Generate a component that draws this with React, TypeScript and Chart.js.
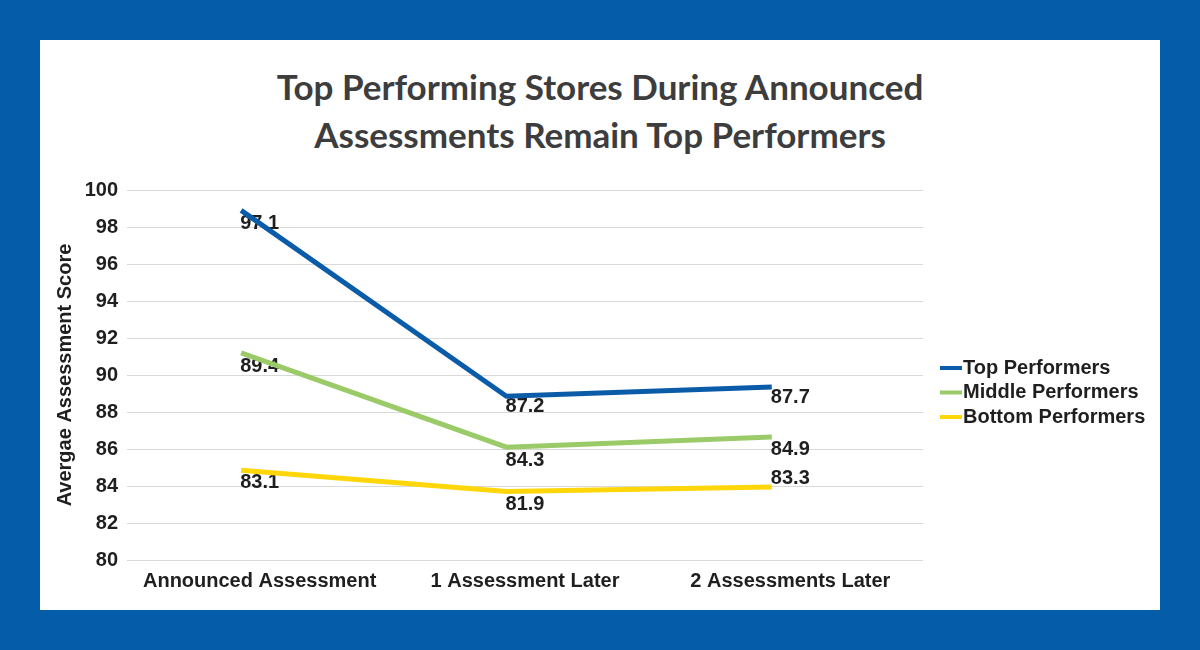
import React, { useEffect, useRef } from "react";
import { Chart, registerables } from "chart.js";

Chart.register(...registerables);

const titleLines = ["Top Performing Stores During Announced", "Assessments Remain Top Performers"];
const categories = ["Announced Assessment", "1 Assessment Later", "2 Assessments Later"];
const seriesNames = ["Top Performers", "Middle Performers", "Bottom Performers"];
const seriesColors = ["#0A5BA8", "#9BCB68", "#FFD60A"];

// line positions as drawn in the picture
const topLine = [98.9, 88.85, 89.35];
const middleLine = [91.2, 86.1, 86.65];
const bottomLine = [84.85, 83.7, 83.95];

// printed data labels
const topLabels = [97.1, 87.2, 87.7];
const middleLabels = [89.4, 84.3, 84.9];
const bottomLabels = [83.1, 81.9, 83.3];

const yMin = 80;
const yMax = 100;
const yStep = 2;
const yTitle = "Avergae Assessment Score";

const TEXT = "#1f1f1f";
const FONT = "'Liberation Sans', Arial, sans-serif";

const lineSets = [topLine, middleLine, bottomLine];
const labelSets = [topLabels, middleLabels, bottomLabels];

const labelPlugin = {
  id: "valueLabels",
  beforeDatasetsDraw(chart: any) {
    const ctx = chart.ctx;
    const xs = chart.scales.x;
    const ys = chart.scales.y;
    ctx.save();
    ctx.font = `bold 20px ${FONT}`;
    ctx.fillStyle = TEXT;
    ctx.textAlign = "center";
    ctx.textBaseline = "middle";
    labelSets.forEach((set) => {
      set.forEach((v, i) => {
        const x = xs.getPixelForValue(i);
        const y = ys.getPixelForValue(v) - 20;
        ctx.fillText(v.toFixed(1), x, y);
      });
    });
    ctx.restore();
  },
};

const legendPlugin = {
  id: "sideLegend",
  afterDraw(chart: any) {
    const ctx = chart.ctx;
    const area = chart.chartArea;
    const x0 = area.right + 17;
    const yCenter = (area.top + area.bottom) / 2;
    const rowH = 24.5;
    ctx.save();
    ctx.font = `bold 20px ${FONT}`;
    ctx.textAlign = "left";
    ctx.textBaseline = "middle";
    chart.data.datasets.forEach((ds: any, i: number) => {
      const y = yCenter - 7 + i * rowH;
      ctx.fillStyle = ds.borderColor;
      ctx.fillRect(x0, y - 2, 22, 4);
      ctx.fillStyle = TEXT;
      ctx.fillText(ds.label, x0 + 23, y);
    });
    ctx.restore();
  },
};

export default function App() {
  const ref = useRef<HTMLCanvasElement | null>(null);

  useEffect(() => {
    if (!ref.current) return;
    const chart = new Chart(ref.current, {
      type: "line",
      data: {
        labels: categories,
        datasets: lineSets.map((vals, k) => ({
          label: seriesNames[k],
          data: vals.map((y, i) => ({ x: i, y })),
          xAxisID: "xl",
          yAxisID: "y",
          borderColor: seriesColors[k],
          backgroundColor: seriesColors[k],
          borderWidth: 5,
          pointRadius: 0,
          tension: 0,
          fill: false,
          borderCapStyle: "butt",
          borderJoinStyle: "miter",
        })),
      },
      options: {
        responsive: false,
        animation: false,
        devicePixelRatio: 1,
        layout: { padding: { left: 50, right: 277, top: 190, bottom: 50 } },
        plugins: {
          legend: { display: false },
          title: { display: false },
          tooltip: { enabled: false },
        },
        scales: {
          x: {
            type: "category",
            offset: true,
            grid: { display: false },
            border: { display: false },
            ticks: { font: { family: FONT, size: 20, weight: "bold" }, color: TEXT, padding: 1 },
            afterFit(scale: any) {
              scale.height = 40;
            },
          },
          xl: {
            type: "linear",
            display: false,
            min: -0.43,
            max: 2.57,
          },
          y: {
            min: yMin,
            max: yMax,
            ticks: {
              stepSize: yStep,
              font: { family: FONT, size: 20, weight: "bold" },
              color: TEXT,
              padding: 9,
            },
            grid: { color: "#d9d9d9", lineWidth: 1, drawTicks: false },
            border: { display: false },
            title: {
              display: true,
              text: yTitle,
              font: { family: FONT, size: 20, weight: "bold" },
              color: TEXT,
              padding: { top: 3, bottom: 0 },
            },
            afterFit(scale: any) {
              scale.width = 77;
            },
          },
        },
      },
      plugins: [labelPlugin, legendPlugin],
    } as any);
    return () => chart.destroy();
  }, []);

  return (
    <div
      style={{
        position: "fixed",
        left: 0,
        top: 0,
        width: 1200,
        height: 650,
        background: "#055DAA",
        overflow: "hidden",
      }}
    >
      <div
        style={{
          position: "absolute",
          left: 40,
          top: 40,
          width: 1120,
          height: 570,
          background: "#ffffff",
        }}
      />
      <div
        style={{
          position: "absolute",
          left: 0,
          top: 62,
          width: 1200,
          textAlign: "center",
          fontFamily: "Lato, 'Noto Sans', sans-serif",
          fontWeight: 700,
          fontSize: 35,
          lineHeight: "48px",
          color: "#3d3d3d",
        }}
      >
        {titleLines.map((t, i) => (
          <div key={i}>{t}</div>
        ))}
      </div>
      <canvas
        ref={ref}
        width={1200}
        height={650}
        style={{ position: "absolute", left: 0, top: 0, width: 1200, height: 650 }}
      />
    </div>
  );
}
